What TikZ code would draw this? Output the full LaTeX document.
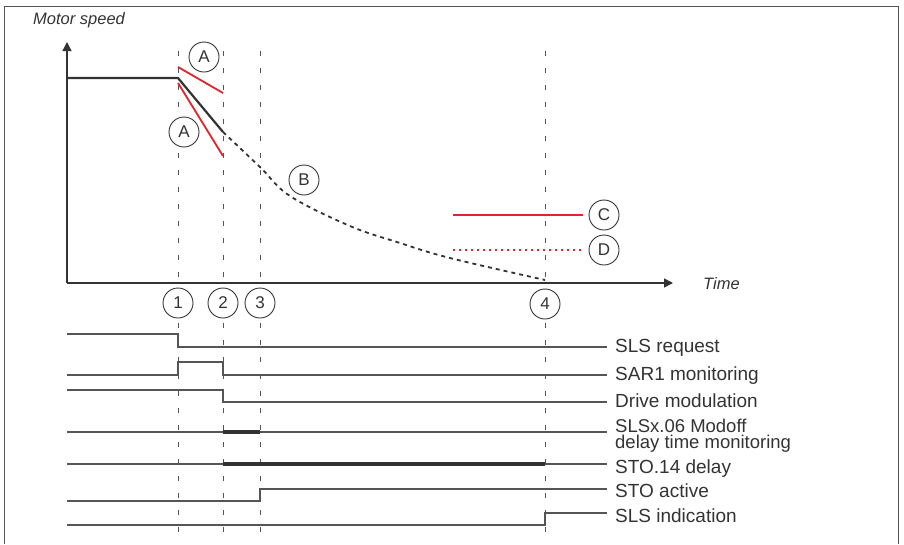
\documentclass[tikz,border=0pt]{standalone}
\usepackage{fontspec}
\setmainfont{Liberation Sans}
\usetikzlibrary{arrows.meta}
\definecolor{ink}{HTML}{333333}
\definecolor{gline}{HTML}{555555}
\definecolor{redl}{HTML}{E3242B}
\tikzset{
  vdash/.style={gline, line width=0.8pt, dash pattern=on 5pt off 12pt},
  axis/.style={ink, line width=1.3pt, -{Triangle[length=9pt,width=9pt]}},
  speed/.style={ink, line width=2.2pt},
  redline/.style={redl, line width=1.8pt},
  sig/.style={gline, line width=1.1pt},
  bar/.style={ink, line width=3.6pt},
  lbl/.style={anchor=base west, inner sep=0pt, text=ink, font=\fontsize{19}{19}\selectfont},
  ital/.style={anchor=base west, inner sep=0pt, text=ink, font=\fontsize{16.5}{16.5}\selectfont\itshape},
  mark circle/.style={circle, draw=ink, fill=white, line width=0.9pt, minimum size=30pt, inner sep=0pt, text=ink, font=\fontsize{17}{17}\selectfont}
}
\begin{document}
\begin{tikzpicture}[x=1pt,y=-1pt]
\useasboundingbox (0,0) rectangle (904,544);
% frame
\draw[gline, line width=1pt] (4,544) -- (4,6) -- (898,6) -- (898,544);
% vertical dashed time markers
\foreach \x/\n in {178/1,223/2,260/3,545/4}{
  \coordinate (t\n top) at (\x,51);
  \coordinate (t\n bot) at (\x,541);
  \draw[vdash] (t\n top) -- (t\n bot);
}
% axes
\coordinate (origin) at (67,283);
\coordinate (ytip) at (67,42);
\coordinate (xtip) at (673,283);
\draw[axis] (origin) -- (ytip);
\draw[axis] (origin) -- (xtip);
\node[ital] (motor) at (33,24) {Motor speed};
\node[ital] (time) at (703,289) {Time};
% speed curve
\coordinate (s0) at (67,78);
\coordinate (s1) at (178,78);
\coordinate (s2) at (223,132);
\draw[speed, line join=round] (s0) -- (s1) -- (s2);
\draw[ink, line width=1.8pt, dash pattern=on 4pt off 4pt] plot[smooth, tension=0.6] coordinates {(223,132) (260,167) (290,196) (350,226) (400,243) (450,258) (545,280)};
% red limit lines
\coordinate (ra1) at (178,67);
\coordinate (ra2) at (223,93);
\coordinate (rb1) at (178,83);
\coordinate (rb2) at (223,156);
\draw[redline] (ra1) -- (ra2);
\draw[redline] (rb1) -- (rb2);
\coordinate (c1) at (453,215);
\coordinate (c2) at (583,215);
\coordinate (d1) at (453,250);
\coordinate (d2) at (583,250);
\draw[redline] (c1) -- (c2);
\draw[redl, line width=1.8pt, dash pattern=on 2pt off 4pt] (d1) -- (d2);
% labelled circles
\node[mark circle] (A1) at (204,57) {A};
\node[mark circle] (A2) at (184,132) {A};
\node[mark circle] (B) at (304,180) {B};
\node[mark circle] (C) at (604,215) {C};
\node[mark circle] (D) at (604,250) {D};
\node[mark circle] (n1) at (178,303) {1};
\node[mark circle] (n2) at (223,303) {2};
\node[mark circle] (n3) at (260,303) {3};
\node[mark circle] (n4) at (545,304) {4};
% timing signals
\draw[sig] (67,334) -- (178,334) -- (178,347) -- (607,347);
\draw[sig] (67,375) -- (178,375) -- (178,362) -- (223,362) -- (223,375) -- (607,375);
\draw[sig] (67,390) -- (223,390) -- (223,402) -- (607,402);
\draw[sig] (67,432) -- (607,432);
\draw[bar] (223,432) -- (260,432);
\draw[sig] (67,464) -- (607,464);
\draw[bar] (223,464) -- (545,464);
\draw[sig] (67,501) -- (260,501) -- (260,489) -- (607,489);
\draw[sig] (67,525) -- (545,525) -- (545,513) -- (607,513);
% labels
\node[lbl] (L1) at (615,352) {SLS request};
\node[lbl] (L2) at (615,380) {SAR1 monitoring};
\node[lbl] (L3) at (615,407) {Drive modulation};
\node[lbl, align=left, font=\fontsize{18.5}{16}\selectfont] (L4) at (615,448) {SLSx.06 Modoff\\delay time monitoring};
\node[lbl] (L5) at (615,473) {STO.14 delay};
\node[lbl] (L6) at (615,497) {STO active};
\node[lbl] (L7) at (615,522) {SLS indication};
\end{tikzpicture}
\end{document}
